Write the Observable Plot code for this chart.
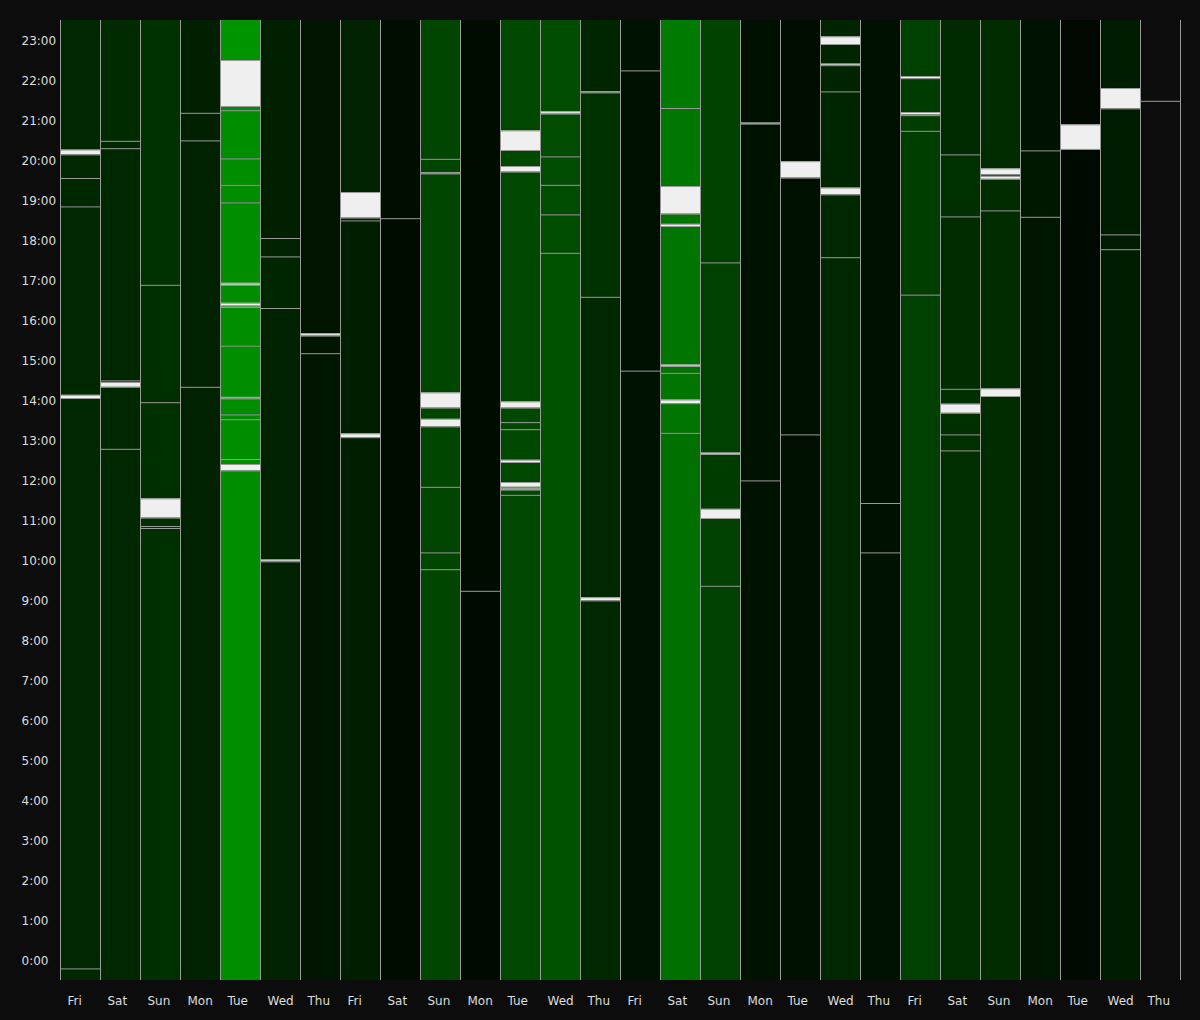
<!DOCTYPE html>
<html>
<head>
<meta charset="utf-8">
<script src="https://cdn.jsdelivr.net/npm/d3@7"></script>
<script src="https://cdn.jsdelivr.net/npm/@observablehq/plot@0.6"></script>
<style>
html, body { margin: 0; padding: 0; background: #0c0c0c; }
#chart svg { display: block; }
</style>
</head>
<body>
<div id="chart"></div>
<script>
// Day columns (28 consecutive days)
const days = ["Fri","Sat","Sun","Mon","Tue","Wed","Thu","Fri","Sat","Sun","Mon","Tue","Wed","Thu",
              "Fri","Sat","Sun","Mon","Tue","Wed","Thu","Fri","Sat","Sun","Mon","Tue","Wed","Thu"];

// Hour tick labels
const hours = d3.range(0, 24);

// Activity segments: [day index, start hour, end hour, level]
const segments = [
  [0,-0.5,-0.21,40],[0,-0.21,14.05,40],[0,14.05,18.84,40],[0,18.84,19.55,40],[0,19.55,20.14,40],[0,20.14,23.5,40],
  [1,-0.5,12.78,40],[1,12.78,14.33,40],[1,14.33,14.49,40],[1,14.49,20.295,40],[1,20.295,20.48,40],[1,20.48,23.5,42],
  [2,-0.5,10.80,48],[2,10.80,10.85,48],[2,10.85,13.945,48],[2,13.945,16.88,48],[2,16.88,23.5,50],
  [3,-0.5,14.33,34],[3,14.33,20.49,34],[3,20.49,21.18,32],[3,21.18,23.5,32],
  [4,-0.5,12.24,142],[4,12.24,12.525,142],[4,12.525,13.52,142],[4,13.52,13.64,142],[4,13.64,14.04,142],[4,14.04,15.36,142],
  [4,15.36,16.325,142],[4,16.325,16.88,142],[4,16.88,18.94,142],[4,18.94,19.38,142],[4,19.38,20.04,142],[4,20.04,21.245,142],
  [4,21.245,21.35,142],[4,21.35,23.5,148],
  [5,-0.5,9.966,34],[5,9.966,16.30,34],[5,16.30,17.59,38],[5,17.59,18.05,34],[5,18.05,23.5,32],
  [6,-0.5,15.17,22],[6,15.17,15.61,22],[6,15.61,23.5,20],
  [7,-0.5,13.07,30],[7,13.07,18.49,30],[7,18.49,18.56,30],[7,18.56,23.5,34],
  [8,-0.5,18.545,12],[8,18.545,23.5,14],
  [9,-0.5,9.77,70],[9,9.77,10.19,70],[9,10.19,11.83,70],[9,11.83,13.34,70],[9,13.34,19.665,70],[9,19.665,20.03,70],[9,20.03,23.5,70],
  [10,-0.5,9.23,10],[10,9.23,23.5,12],
  [11,-0.5,11.63,72],[11,11.63,13.27,72],[11,13.27,13.447,72],[11,13.447,23.5,72],
  [12,-0.5,17.68,82],[12,17.68,18.64,76],[12,18.64,19.38,76],[12,19.38,20.09,76],[12,20.09,21.16,76],[12,21.16,23.5,76],
  [13,-0.5,8.99,40],[13,8.99,16.58,40],[13,16.58,21.69,50],[13,21.69,23.5,38],
  [14,-0.5,14.735,18],[14,14.735,22.24,16],[14,22.24,23.5,18],
  [15,-0.5,13.18,112],[15,13.18,13.92,118],[15,13.92,14.68,118],[15,14.68,18.35,118],[15,18.35,18.66,118],[15,18.66,21.30,120],[15,21.30,23.5,122],
  [16,-0.5,9.355,64],[16,9.355,11.05,64],[16,11.05,12.65,60],[16,12.65,17.44,64],[16,17.44,23.5,66],
  [17,-0.5,11.99,18],[17,11.99,20.91,18],[17,20.91,23.5,16],
  [18,-0.5,13.14,16],[18,13.14,19.56,16],[18,19.56,23.5,14],
  [19,-0.5,17.57,40],[19,17.57,19.14,40],[19,19.14,21.715,38],[19,21.715,22.37,36],[19,22.37,23.5,36],
  [20,-0.5,10.19,18],[20,10.19,11.425,16],[20,11.425,23.5,16],
  [21,-0.5,16.635,64],[21,16.635,20.73,62],[21,20.73,21.12,62],[21,21.12,22.045,60],[21,22.045,23.5,64],
  [22,-0.5,12.74,46],[22,12.74,13.14,48],[22,13.14,13.68,48],[22,13.68,14.28,48],[22,14.28,18.59,44],[22,18.59,20.14,48],[22,20.14,23.5,42],
  [23,-0.5,14.10,44],[23,14.10,18.74,44],[23,18.74,19.53,44],[23,19.53,23.5,44],
  [24,-0.5,18.58,22],[24,18.58,20.24,24],[24,20.24,23.5,18],
  [25,-0.5,20.276,10],[25,20.276,23.5,8],
  [26,-0.5,17.77,28],[26,17.77,18.14,28],[26,18.14,21.29,28],[26,21.29,23.5,28]
];

// Highlighted events (white blocks): [day index, start hour, end hour]
const events = [
  [0,14.05,14.13],[0,20.14,20.26],
  [1,14.33,14.45],
  [2,11.06,11.54],
  [4,12.24,12.40],[4,14.04,14.077],[4,16.36,16.43],[4,16.88,16.93],[4,21.35,22.5],
  [5,9.966,10.013],
  [6,15.61,15.67],
  [7,13.07,13.165],[7,18.56,19.20],
  [9,13.34,13.53],[9,13.81,14.19],[9,19.665,19.70],
  [11,11.76,11.79],[11,11.83,11.95],[11,12.45,12.506],[11,13.81,13.964],[11,19.71,19.85],[11,20.25,20.74],
  [12,21.16,21.22],
  [13,8.99,9.07],[13,21.69,21.725],
  [15,13.92,14.01],[15,14.85,14.886],[15,18.35,18.404],[15,18.66,19.35],
  [16,11.05,11.28],[16,12.65,12.685],
  [17,20.91,20.935],
  [18,19.56,19.97],
  [19,19.14,19.31],[19,22.37,22.41],[19,22.90,23.09],
  [21,21.14,21.20],[21,22.045,22.10],
  [22,13.68,13.907],
  [23,14.10,14.29],[23,19.53,19.60],[23,19.64,19.79],
  [25,20.276,20.89],
  [26,21.29,21.80]
];

// Current (incomplete) day: no level yet
const pending = [[27,-0.5,21.48],[27,21.48,23.5]];

// Segment boundaries (separator lines), deduplicated per column
const seen = new Set();
const cuts = [];
function addCut(c, t) {
  if (t <= -0.5 || t >= 23.5) return;
  const k = c + ":" + t;
  if (!seen.has(k)) { seen.add(k); cuts.push([c, t]); }
}
for (const [c, s] of segments) addCut(c, s);
for (const [c, s] of pending) addCut(c, s);
for (const [c, s, e] of events) { addCut(c, s); addCut(c, e); }

const lineColor = "#9a9a9a";

const chart = Plot.plot({
  width: 1200,
  height: 1020,
  marginLeft: 60,
  marginRight: 20,
  marginTop: 20,
  marginBottom: 40,
  style: { background: "#0c0c0c", color: "#dddddd", fontFamily: "DejaVu Sans", fontSize: "12px" },
  x: { type: "band", domain: d3.range(days.length), padding: 0 },
  y: { domain: [-0.5, 23.5] },
  color: { type: "linear", domain: [0, 255], range: ["#000000", "#00ff00"], interpolate: "rgb" },
  marks: [
    Plot.barY(segments, { x: d => d[0], y1: d => d[1], y2: d => d[2], fill: d => d[3], inset: 0 }),
    Plot.barY(pending, { x: d => d[0], y1: d => d[1], y2: d => d[2], fill: "none", inset: 0 }),
    Plot.barY(events, { x: d => d[0], y1: d => d[1], y2: d => d[2], fill: "#efefef", inset: 0 }),
    Plot.tickY(cuts, { x: d => d[0], y: d => d[1], stroke: lineColor, strokeWidth: 1 }),
    Plot.ruleX(d3.range(days.length), { x: d => d, dx: -20, stroke: lineColor, strokeWidth: 1 }),
    Plot.ruleX([days.length - 1], { x: d => d, dx: 20, stroke: lineColor, strokeWidth: 1 }),
    Plot.axisY({ ticks: hours, tickFormat: h => h + ":00", tickSize: 0, tickPadding: 0, textAnchor: "start", dx: -39, dy: 1, label: null }),
    Plot.axisX({ tickFormat: i => days[i], tickSize: 0, tickPadding: 16, textAnchor: "start", dx: -13, label: null })
  ]
});
document.getElementById("chart").appendChild(chart);
</script>
</body>
</html>
